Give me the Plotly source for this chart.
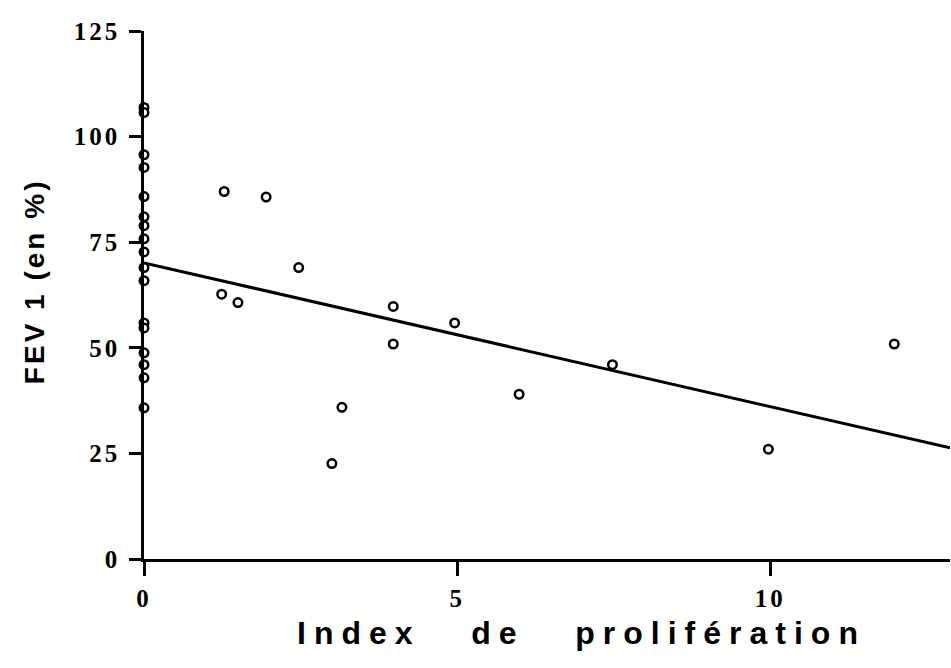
import plotly.graph_objects as go

# Points at index 0
zero_x = [0] * 17
zero_y = [106.9, 105.7, 95.7, 92.7, 85.8, 81.0, 78.9, 75.8, 72.7, 69.0, 65.9,
          55.9, 54.7, 48.8, 46.0, 42.9, 35.8]

# Other points
pos_x = [1.28, 1.95, 2.47, 1.24, 1.50, 3.98, 4.96, 3.98, 3.16, 3.0,
         5.99, 7.48, 9.97, 11.98]
pos_y = [87.0, 85.7, 69.0, 62.7, 60.7, 59.8, 55.9, 50.9, 35.9, 22.6,
         39.0, 46.0, 26.0, 50.9]

# Regression line endpoints
fit_x = [0, 12.87]
fit_y = [70.1, 26.3]

x_ticks = [0, 5, 10]
y_ticks = [0, 25, 50, 75, 100, 125]


def spaced(s, px):
    return f'<span style="letter-spacing:{px}px">{s}</span>'


fig = go.Figure()
fig.add_trace(go.Scatter(x=fit_x, y=fit_y, mode="lines",
                         line=dict(color="black", width=3), cliponaxis=False,
                         hoverinfo="skip"))
fig.add_trace(go.Scatter(x=zero_x + pos_x, y=zero_y + pos_y, mode="markers",
                         marker=dict(symbol="circle", size=8.5, color="white",
                                     line=dict(color="black", width=2.5)),
                         cliponaxis=False))

tickfont = dict(family="Liberation Serif", size=25, color="black", weight="bold")

fig.update_layout(
    width=951, height=668,
    margin=dict(l=144, r=1, t=31, b=109),
    paper_bgcolor="white", plot_bgcolor="white",
    showlegend=False,
    xaxis=dict(range=[0, 12.87], tickvals=x_ticks,
               ticktext=[spaced(str(v), 3) for v in x_ticks],
               showgrid=False, zeroline=False, showline=True, linecolor="black",
               linewidth=2.5, ticks="outside", ticklen=14, tickwidth=2.5,
               tickcolor="black", tickfont=tickfont, ticklabelstandoff=1),
    yaxis=dict(range=[0, 125], tickvals=y_ticks,
               ticktext=[spaced(str(v), 3) for v in y_ticks],
               showgrid=False, zeroline=False, showline=True, linecolor="black",
               linewidth=2.5, ticks="outside", ticklen=12, tickwidth=2.5,
               tickcolor="black", tickfont=tickfont, ticklabelstandoff=4),
    annotations=[
        dict(text=spaced("Index   de   prolifération", 8), xref="paper", yref="paper",
             x=0.543, y=-0.140, xanchor="center", yanchor="middle", showarrow=False,
             font=dict(family="Liberation Sans", size=32, color="black", weight="bold")),
        dict(text=spaced("FEV 1 (en %)", 3), xref="paper", yref="paper",
             x=-0.136, y=0.527, xanchor="center", yanchor="middle", showarrow=False,
             textangle=-90,
             font=dict(family="Liberation Sans", size=28, color="black", weight="bold")),
    ],
)

fig.write_html("out.html")
